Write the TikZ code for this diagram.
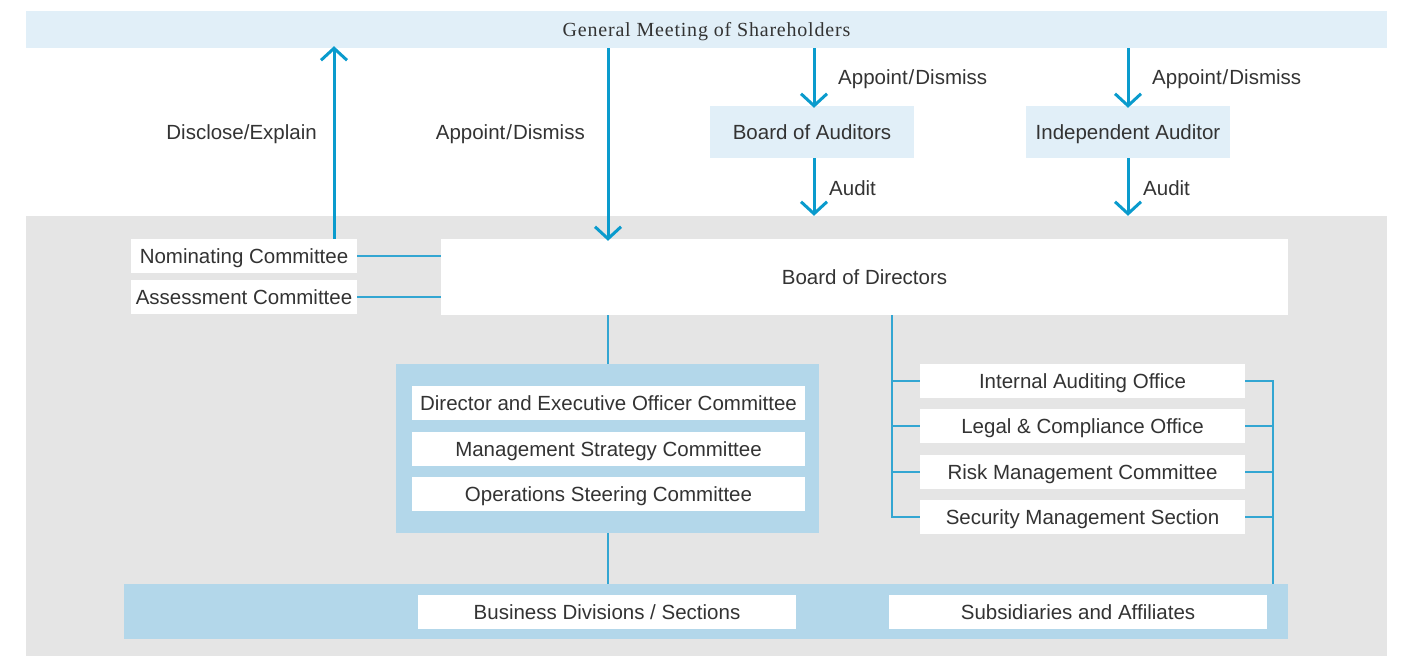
\documentclass[tikz,border=0pt]{standalone}
\usepackage{fontspec}
\setmainfont{Liberation Sans}
\newfontfamily\titlefont[LetterSpace=4]{Liberation Serif}
\usetikzlibrary{arrows.meta}
\definecolor{topband}{HTML}{E1EFF8}
\definecolor{greyband}{HTML}{E5E5E5}
\definecolor{boxblue}{HTML}{B3D7EA}
\definecolor{arrblue}{HTML}{0A9BCD}
\definecolor{lineblue}{HTML}{33A6D2}
\definecolor{txt}{HTML}{333333}
\tikzset{
  lbl/.style={font=\fontsize{20.5}{24}\selectfont, text=txt, inner sep=0pt, text height=14.7pt, text depth=0pt},
  wbox/.style={lbl, rectangle, fill=white, minimum height=34pt},
  arr/.style={draw=arrblue, line width=3pt, -{Straight Barb[length=12pt,width=26pt,line width=3pt]}},
  conn/.style={draw=lineblue, line width=1.5pt},
}
\begin{document}
\begin{tikzpicture}[x=1pt,y=-1pt]
\useasboundingbox (0,0) rectangle (1402,656);
% bands
\node[rectangle, fill=topband, minimum width=1361pt, minimum height=37pt, inner sep=0pt,
      font=\titlefont\fontsize{20}{24}\selectfont, text=txt, text height=13.5pt, text depth=0pt] (gms) at (706.5,29.5) {General Meeting of Shareholders};
\node[rectangle, fill=greyband, minimum width=1361pt, minimum height=440pt, inner sep=0pt] (main) at (706.5,436) {};
% auditors
\node[lbl, rectangle, fill=topband, minimum width=204pt, minimum height=52pt] (boa) at (812,132) {Board of Auditors};
\node[lbl, rectangle, fill=topband, minimum width=204pt, minimum height=52pt] (ia) at (1128,132) {Independent Auditor};
% committees left
\node[wbox, minimum width=226pt] (nom) at (244,256) {Nominating Committee};
\node[wbox, minimum width=226pt] (ass) at (244,297) {Assessment Committee};
% board of directors
\node[wbox, minimum width=847pt, minimum height=76pt] (bod) at (864.5,277) {Board of Directors};
% executive container
\node[rectangle, fill=boxblue, minimum width=423pt, minimum height=169pt, inner sep=0pt] (exec) at (607.5,448.5) {};
\node[wbox, minimum width=393pt] (deoc) at (608.5,403) {Director and Executive Officer Committee};
\node[wbox, minimum width=393pt] (msc) at (608.5,449) {Management Strategy Committee};
\node[wbox, minimum width=393pt] (osc) at (608.5,494) {Operations Steering Committee};
% bottom band
\node[rectangle, fill=boxblue, minimum width=1164pt, minimum height=55pt, inner sep=0pt] (bottom) at (706,611.5) {};
\node[wbox, minimum width=378pt] (bds) at (607,612) {Business Divisions / Sections};
\node[wbox, minimum width=378pt] (saa) at (1078,612) {Subsidiaries and Affiliates};
% right offices
\node[wbox, minimum width=325pt] (iao) at (1082.5,381) {Internal Auditing Office};
\node[wbox, minimum width=325pt] (lco) at (1082.5,426) {Legal \& Compliance Office};
\node[wbox, minimum width=325pt] (rmc) at (1082.5,472) {Risk Management Committee};
\node[wbox, minimum width=325pt] (sms) at (1082.5,517) {Security Management Section};
% helper x positions
\coordinate (xdis) at (334,0);
\coordinate (xapp) at (608,0);
\coordinate (xboa) at (814,0);
\coordinate (xia) at (1128,0);
\coordinate (xl) at (892,0);
\coordinate (xr) at (1273,0);
% arrows
\draw[arr] (xdis |- nom.north) -- ([yshift=2pt]xdis |- gms.south);
\draw[arr] (xapp |- gms.south) -- ([yshift=-2pt]xapp |- bod.north);
\draw[arr] (xboa |- gms.south) -- ([yshift=-2pt]xboa |- boa.north);
\draw[arr] (xia |- gms.south) -- ([yshift=-2pt]xia |- ia.north);
\draw[arr] (xboa |- boa.south) -- (xboa |- main.north);
\draw[arr] (xia |- ia.south) -- (xia |- main.north);
% arrow labels
\node[lbl, anchor=east] (l1) at (317,132) {Disclose/Explain};
\node[lbl, anchor=east] (l2) at (585,132) {Appoint\kern1pt/\kern1pt Dismiss};
\node[lbl, anchor=west] (l3) at (838,77) {Appoint\kern1pt/\kern1pt Dismiss};
\node[lbl, anchor=west] (l4) at (1152,77) {Appoint\kern1pt/\kern1pt Dismiss};
\node[lbl, anchor=west] (l5) at (829,188) {Audit};
\node[lbl, anchor=west] (l6) at (1143,188) {Audit};
% thin connectors
\draw[conn] (nom.east) -- (nom.east -| bod.west);
\draw[conn] (ass.east) -- (ass.east -| bod.west);
\draw[conn] (xapp |- bod.south) -- (xapp |- exec.north);
\draw[conn] (xapp |- exec.south) -- (xapp |- bottom.north);
\draw[conn] (xl |- bod.south) -- (xl |- sms.west) -- (sms.west);
\draw[conn] (xl |- iao.west) -- (iao.west);
\draw[conn] (xl |- lco.west) -- (lco.west);
\draw[conn] (xl |- rmc.west) -- (rmc.west);
\draw[conn] (iao.east) -- (xr |- iao.east) -- (xr |- bottom.north);
\draw[conn] (lco.east) -- (xr |- lco.east);
\draw[conn] (rmc.east) -- (xr |- rmc.east);
\draw[conn] (sms.east) -- (xr |- sms.east);
\end{tikzpicture}
\end{document}
